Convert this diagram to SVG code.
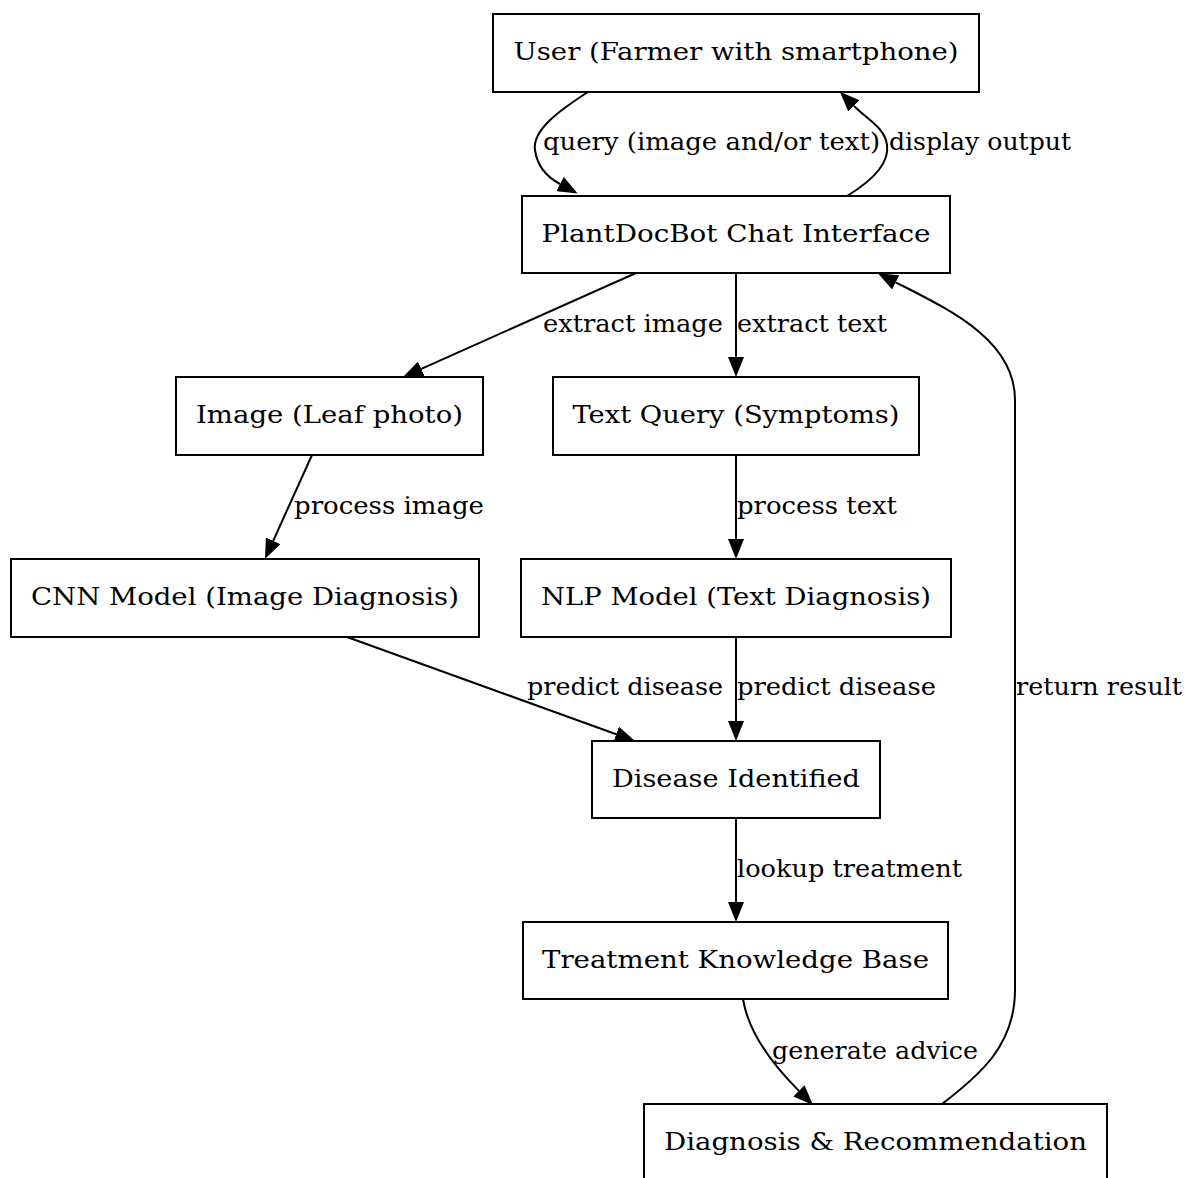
<svg xmlns="http://www.w3.org/2000/svg" width="1185" height="1178" viewBox="0 0 1185 1178">
<style>
.box{fill:#fff;stroke:#000;stroke-width:2}
.nt{font-family:"DejaVu Serif",serif;font-size:25px;text-anchor:middle;fill:#000}
.lt{font-family:"DejaVu Serif",serif;font-size:24px;fill:#000}
.e{fill:none;stroke:#000;stroke-width:2}
</style>
<defs>
<marker id="ah" markerUnits="userSpaceOnUse" markerWidth="20" markerHeight="16" viewBox="0 0 20 16" refX="0" refY="8" orient="auto">
<path d="M0,0 L20,8 L0,16 z" fill="#000"/>
</marker>
</defs>
<rect width="1185" height="1178" fill="#fff"/>
<g id="edges">
<path class="e" marker-end="url(#ah)" d="M588,92 C560,110 532,130 535,150 C537,165 545,176 560,184"/>
<path class="e" marker-end="url(#ah)" d="M847,196 C870,182 890,165 887,145 C885,128 868,120 854,106"/>
<path class="e" marker-end="url(#ah)" d="M636,273 L421.3,368.8"/>
<path class="e" marker-end="url(#ah)" d="M736,273 L736,357"/>
<path class="e" marker-end="url(#ah)" d="M942,1104 C980,1075 1015,1045 1015,990 L1015,400 C1015,340 950,310 895.7,282.3"/>
<path class="e" marker-end="url(#ah)" d="M312,455 L273.2,540.8"/>
<path class="e" marker-end="url(#ah)" d="M736,455 L736,539"/>
<path class="e" marker-end="url(#ah)" d="M347,637 L616.2,734.2"/>
<path class="e" marker-end="url(#ah)" d="M736,637 L736,721"/>
<path class="e" marker-end="url(#ah)" d="M736,818 L736,902"/>
<path class="e" marker-end="url(#ah)" d="M743,999 C748,1030 770,1062 798.9,1090.9"/>
<text class="lt" x="543" y="150" textLength="337" lengthAdjust="spacingAndGlyphs">query (image and/or text)</text>
<text class="lt" x="889" y="150" textLength="182" lengthAdjust="spacingAndGlyphs">display output</text>
<text class="lt" x="543" y="332" textLength="180" lengthAdjust="spacingAndGlyphs">extract image</text>
<text class="lt" x="737" y="332" textLength="150" lengthAdjust="spacingAndGlyphs">extract text</text>
<text class="lt" x="294" y="514" textLength="190" lengthAdjust="spacingAndGlyphs">process image</text>
<text class="lt" x="737" y="514" textLength="160" lengthAdjust="spacingAndGlyphs">process text</text>
<text class="lt" x="527" y="695" textLength="196" lengthAdjust="spacingAndGlyphs">predict disease</text>
<text class="lt" x="737" y="695" textLength="199" lengthAdjust="spacingAndGlyphs">predict disease</text>
<text class="lt" x="1016" y="695" textLength="166" lengthAdjust="spacingAndGlyphs">return result</text>
<text class="lt" x="737" y="877" textLength="225" lengthAdjust="spacingAndGlyphs">lookup treatment</text>
<text class="lt" x="772" y="1059" textLength="206" lengthAdjust="spacingAndGlyphs">generate advice</text>
</g>
<g id="user"><rect class="box" x="493" y="14" width="486" height="78"/><text class="nt" x="736" y="59.5" textLength="445" lengthAdjust="spacingAndGlyphs">User (Farmer with smartphone)</text></g>
<g id="chat"><rect class="box" x="522" y="196" width="428" height="77"/><text class="nt" x="736" y="241.5" textLength="389" lengthAdjust="spacingAndGlyphs">PlantDocBot Chat Interface</text></g>
<g id="image"><rect class="box" x="176" y="377" width="307" height="78"/><text class="nt" x="329.5" y="422.5" textLength="267" lengthAdjust="spacingAndGlyphs">Image (Leaf photo)</text></g>
<g id="textquery"><rect class="box" x="553" y="377" width="366" height="78"/><text class="nt" x="736" y="422.5" textLength="327" lengthAdjust="spacingAndGlyphs">Text Query (Symptoms)</text></g>
<g id="cnn"><rect class="box" x="11" y="559" width="468" height="78"/><text class="nt" x="245" y="604.5" textLength="428" lengthAdjust="spacingAndGlyphs">CNN Model (Image Diagnosis)</text></g>
<g id="nlp"><rect class="box" x="521" y="559" width="430" height="78"/><text class="nt" x="736" y="604.5" textLength="390" lengthAdjust="spacingAndGlyphs">NLP Model (Text Diagnosis)</text></g>
<g id="disease"><rect class="box" x="592" y="741" width="288" height="77"/><text class="nt" x="736" y="786.5" textLength="248" lengthAdjust="spacingAndGlyphs">Disease Identified</text></g>
<g id="kb"><rect class="box" x="523" y="922" width="425" height="77"/><text class="nt" x="735.5" y="967.5" textLength="387" lengthAdjust="spacingAndGlyphs">Treatment Knowledge Base</text></g>
<g id="diag"><rect class="box" x="644" y="1104" width="463" height="90"/><text class="nt" x="875.5" y="1149.5" textLength="423" lengthAdjust="spacingAndGlyphs">Diagnosis &amp; Recommendation</text></g>
</svg>
